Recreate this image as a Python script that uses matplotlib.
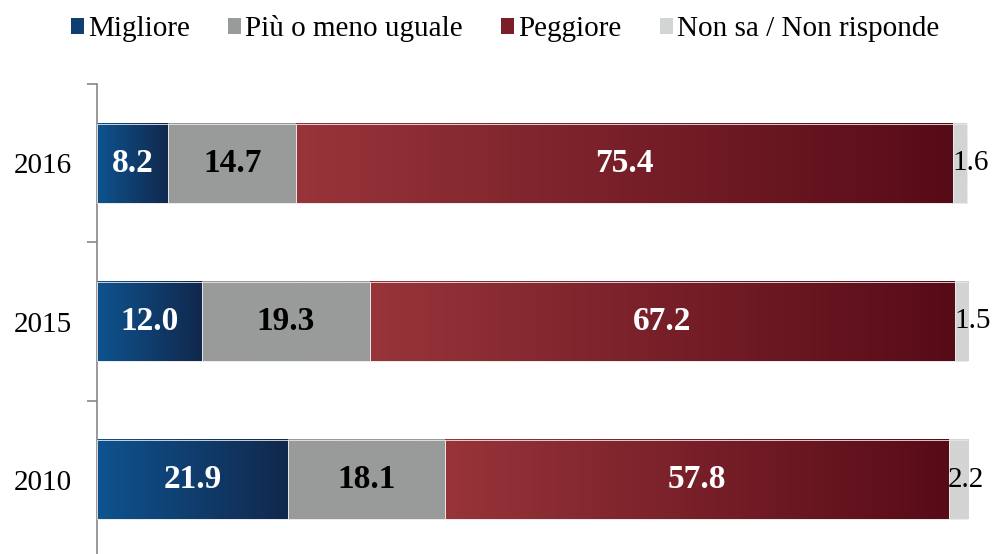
import matplotlib
matplotlib.use("Agg")
import matplotlib.pyplot as plt
import numpy as np
from matplotlib.colors import LinearSegmentedColormap
from matplotlib.patches import Patch

plt.rcParams['font.family'] = ['Liberation Serif', 'DejaVu Serif']

years = ["2010", "2015", "2016"]
series_names = ["Migliore", "Più o meno uguale", "Peggiore", "Non sa / Non risponde"]
migliore = [21.9, 12.0, 8.2]
uguale = [18.1, 19.3, 14.7]
peggiore = [57.8, 67.2, 75.4]
nonsa = [2.2, 1.5, 1.6]
values = [migliore, uguale, peggiore, nonsa]

fills = [("#0e538f", "#11284c"), ("#999b9b", "#999b9b"), ("#98343a", "#570b17"), ("#d3d4d4", "#d3d4d4")]
text_colors = ["white", "black", "white", "black"]
legend_colors = ["#0f3f70", "#999b9b", "#7a1f28", "#d3d4d4"]

fig = plt.figure(figsize=(9.94, 5.54), dpi=100)
ax = fig.add_axes([97/994, -5/554, 871/994, 475/554])

bar_h = 0.5
grad = np.linspace(0, 1, 256).reshape(1, -1)
for i, y in enumerate(range(len(years))):
    left = 0.0
    for s in range(4):
        w = values[s][i]
        c0, c1 = fills[s]
        cmap = LinearSegmentedColormap.from_list("g%d" % s, [c0, c1])
        ax.imshow(grad, cmap=cmap, aspect='auto',
                  extent=(left, left + w, y - bar_h/2, y + bar_h/2), zorder=2)
        ax.add_patch(plt.Rectangle((left, y - bar_h/2), w, bar_h, fill=False,
                                   edgecolor='#e8e8e8', lw=0.6, zorder=3))
        if s < 3:
            ax.text(left + w/2, y, f"{w:.1f}", ha='center', va='center',
                    color=text_colors[s], fontsize=24, fontweight='bold', zorder=4)
        else:
            ax.text(left - 0.1, y, f"{w:.1f}", ha='left', va='center',
                    color='black', fontsize=21, zorder=4)
        left += w

ax.set_xlim(0, 100)
ax.set_ylim(-0.5, 2.5)
ax.set_yticks(range(len(years)))
ax.set_yticklabels(years, fontsize=21)
ax.tick_params(axis='y', which='major', length=0, pad=18)
ax.set_yticks([0.5, 1.5, 2.5], minor=True)
ax.tick_params(axis='y', which='minor', length=7, color='#888888', width=1.2)
ax.set_xticks([])
for sp in ['top', 'right', 'bottom']:
    ax.spines[sp].set_visible(False)
ax.spines['left'].set_color('#888888')
ax.spines['left'].set_linewidth(1.2)

handles = [Patch(facecolor=legend_colors[k], edgecolor='none') for k in range(4)]
fig.legend(handles, series_names, loc='center', bbox_to_anchor=(0.508, 0.948), ncol=4,
           frameon=False, fontsize=21, handlelength=0.45, handleheight=0.45,
           handletextpad=0.15, columnspacing=1.3)

fig.savefig("out.png", dpi=100)
